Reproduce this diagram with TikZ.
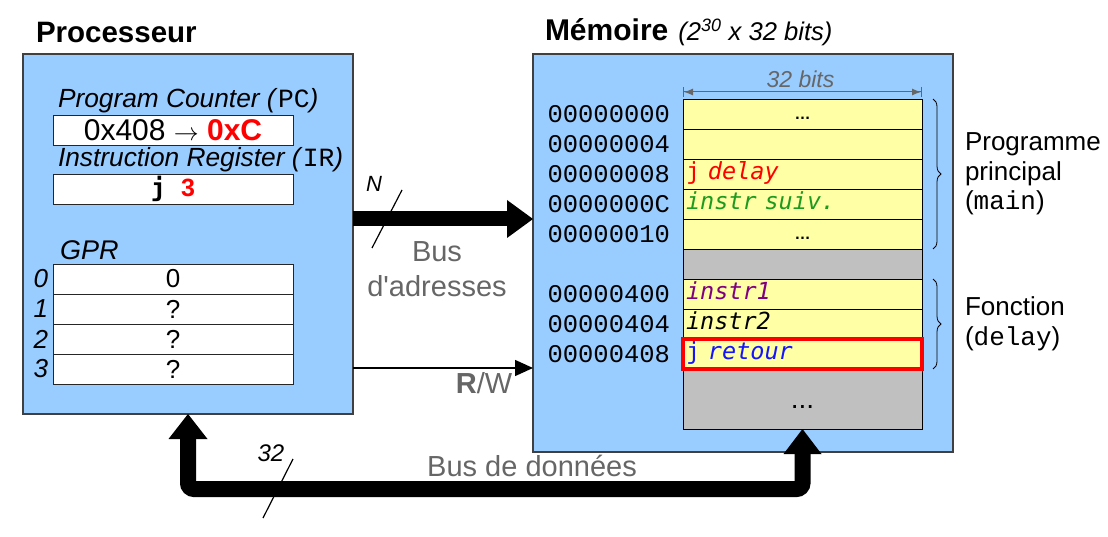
\documentclass[tikz,border=0pt]{standalone}
\usepackage{fontspec}
\setmainfont{Liberation Sans}[Ligatures=TeXOff]
\setmonofont{Liberation Mono}
\newfontfamily\codefont{DejaVu Sans Mono}
\usetikzlibrary{arrows.meta,positioning,decorations.pathreplacing}
\newcommand{\fsz}[1]{\fontsize{#1}{\the\dimexpr#1pt*6/5\relax}\selectfont}
\definecolor{procblue}{RGB}{153,204,255}
\definecolor{cellyellow}{RGB}{255,255,166}
\definecolor{cellgray}{RGB}{192,192,192}
\definecolor{textgray}{RGB}{102,102,102}
\definecolor{codegreen}{RGB}{30,154,30}
\definecolor{codepurple}{RGB}{128,0,128}
\definecolor{codeblue}{RGB}{20,20,255}

\begin{document}
\begin{tikzpicture}[x=1pt, y=-1pt,
  every node/.style={inner sep=0pt, outer sep=0pt},
  block/.style={draw=black!75, fill=procblue, line width=1.2pt},
  reg/.style={draw=black!85, fill=white, line width=0.8pt, minimum width=240pt, minimum height=30pt},
  cell/.style={draw, fill=cellyellow, line width=0.8pt, text width=233pt, inner xsep=3pt, minimum height=30pt, text height=16pt, text depth=5pt, font=\codefont\fsz{23.5}},
  addr/.style={font=\ttfamily\fsz{25.5}},
  graytext/.style={text=textgray, font=\fsz{29}},
  bus/.style={line width=15pt, -{Triangle[length=26pt,width=38pt,line width=0pt]}}]
\useasboundingbox (0,0) rectangle (1108,537);

% processeur
\node (proctitle) [anchor=base west, font=\bfseries\fsz{29.5}] at (36,43) {Processeur};
\node (proc) [block, minimum width=330pt, minimum height=360pt] at (188,234) {};
\node (pc) [reg] at (173,130) {\fsz{30}0x408 $\rightarrow$ \textcolor{red}{\bfseries 0xC}};
\node (pclabel) [above right=2pt and 5pt of pc.north west, font=\itshape\fsz{26.3}] {Program Counter (\textup{\ttfamily PC})};
\node (ir) [reg, below=29pt of pc] {\codefont\bfseries\fsz{25}j \textcolor{red}{\rmfamily 3}};
\node (irlabel) [above right=2pt and 5pt of ir.north west, font=\itshape\fsz{26.3}] {Instruction Register (\textup{\ttfamily IR})};

% registres GPR
\node (g0) [reg] at (173,279) {\fsz{26}0};
\node (g1) [reg, below=0pt of g0] {\fsz{26}?};
\node (g2) [reg, below=0pt of g1] {\fsz{26}?};
\node (g3) [reg, below=0pt of g2] {\fsz{26}?};
\node (gpr) [above right=4pt and 7pt of g0.north west, font=\itshape\fsz{27}] {GPR};
\node (i0) [left=5pt of g0, font=\itshape\fsz{26}] {0};
\node (i1) [left=5pt of g1, font=\itshape\fsz{26}] {1};
\node (i2) [left=5pt of g2, font=\itshape\fsz{26}] {2};
\node (i3) [left=5pt of g3, font=\itshape\fsz{26}] {3};

% memoire
\node (memtitle) [anchor=base west, font=\bfseries\fsz{30}] at (545,41) {Mémoire};
\node (memsize) [anchor=base west, font=\itshape\fsz{25.6}] at ([xshift=10pt]memtitle.base east) {(2\textsuperscript{30} x 32 bits)};
\node (mem) [block, minimum width=420pt, minimum height=398pt] at (743,253) {};
\node (m0) [cell, align=center] at (802.5,114) {\rmfamily\bfseries\fsz{16}…};
\node (m1) [cell, below=0pt of m0] {};
\node (m2) [cell, below=0pt of m1] {\textcolor{red}{j \textit{delay}}};
\node (m3) [cell, below=0pt of m2] {\textcolor{codegreen}{\textit{instr suiv.}}};
\node (m4) [cell, align=center, below=0pt of m3] {\rmfamily\bfseries\fsz{16}…};
\node (gap) [cell, fill=cellgray, below=0pt of m4] {};
\node (f0) [cell, below=0pt of gap] {\textcolor{codepurple}{\textit{instr1}}};
\node (f1) [cell, below=0pt of f0] {\textit{instr2}};
\node (f2) [cell, below=0pt of f1] {\textcolor{codeblue}{j \textit{retour}}};
\node (rest) [cell, fill=cellgray, align=center, minimum height=60pt, text height=18pt, text depth=0pt, below=0pt of f2] {\rmfamily\fsz{28}...};
\draw[red, line width=4pt] (f2.south west) rectangle (f2.north east);

% adresses
\node (a0) [addr, left=13pt of m0] {00000000};
\node (a1) [addr, left=13pt of m1] {00000004};
\node (a2) [addr, left=13pt of m2] {00000008};
\node (a3) [addr, left=13pt of m3] {0000000C};
\node (a4) [addr, left=13pt of m4] {00000010};
\node (a5) [addr, left=13pt of f0] {00000400};
\node (a6) [addr, left=13pt of f1] {00000404};
\node (a7) [addr, left=13pt of f2] {00000408};

% largeur du mot
\draw[textgray, line width=1pt, {Bar[width=10pt]Latex[length=9pt,width=7pt]}-{Latex[length=9pt,width=7pt]Bar[width=10pt]}]
  ([yshift=7pt]m0.north west) -- ([yshift=7pt]m0.north east)
  node (wlabel) [midway, above=4pt, xshift=-2pt, font=\itshape\fsz{23}] {32 bits};

% accolades
\draw[decorate, decoration={brace, amplitude=8pt}, line width=0.8pt] ([xshift=11pt]m0.north east) -- ([xshift=11pt]m4.south east);
\draw[decorate, decoration={brace, amplitude=8pt}, line width=0.8pt] ([xshift=11pt]f0.north east) -- ([xshift=11pt]f2.south east);
\node (prog) [anchor=west, align=left, font=\fontsize{26}{29.5}\selectfont] at ([xshift=43pt]m2.east) {Programme\\principal\\(\texttt{main})};
\node (fonc) [anchor=west, align=left, font=\fontsize{26}{29.5}\selectfont] at ([xshift=43pt]f1.east) {Fonction\\(\texttt{delay})};

% bus
\draw[bus] (proc.east |- 0,219) -- (mem.west |- 0,219);
\draw[line width=1.2pt] (372,248) -- (402,190);
\node (nlabel) [font=\itshape\fsz{22}] at (374,184) {N};
\node (abuslabel) [text=textgray, align=center, font=\fontsize{29}{35}\selectfont] at (437,269) {Bus\\d'adresses};
\draw[line width=1.5pt, -{Triangle[length=18pt,width=16pt]}] (proc.east |- 0,368) -- (mem.west |- 0,368);
\node (rw) [graytext] at (484,383) {\textbf{R}/W};
\draw[bus, line width=16pt, rounded corners=6pt, {Triangle[length=25pt,width=39pt,line width=0pt]}-{Triangle[length=25pt,width=38pt,line width=0pt]}]
  (proc.south) -- ++(0,75) -| (rest.south);
\draw[line width=1.2pt] (263,518) -- (293,459);
\node (dlabel) [font=\itshape\fsz{24}] at (271,453) {32};
\node (dbuslabel) [graytext] at (532,466) {Bus de données};
\end{tikzpicture}
\end{document}
